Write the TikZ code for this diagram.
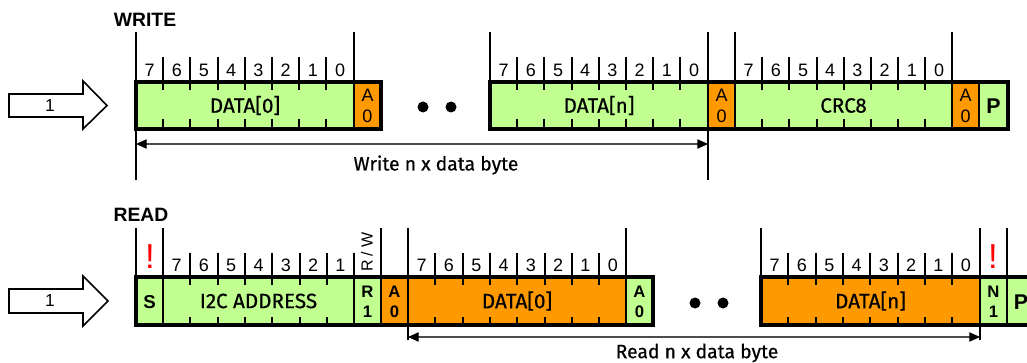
\documentclass[tikz,border=0pt]{standalone}
\usepackage{fontspec}
\setmainfont{Liberation Sans}
\newfontfamily\labelfont[FakeBold=0.6]{Fira Sans}
\usetikzlibrary{arrows.meta}
\definecolor{fieldgreen}{RGB}{192,255,144}
\definecolor{fieldorange}{RGB}{255,153,0}
\tikzset{
	bitnum/.style={font=\fontsize{13.5}{14}\selectfont, inner sep=0pt},
	bytename/.style={font=\labelfont\fontsize{15.5}{16}\selectfont, inner sep=0pt},
	ackbit/.style={font=\fontsize{13.5}{16}\selectfont, align=center, inner sep=0pt},
	ackbold/.style={font=\bfseries\fontsize{12.5}{15}\selectfont, align=center, inner sep=0pt},
	bigbold/.style={font=\bfseries\fontsize{14.5}{16}\selectfont, inner sep=0pt},
	frame/.style={black, line width=2.6pt},
	sep/.style={black, line width=1.5pt},
	dimline/.style={black!70, line width=0.8pt, {Triangle[length=8pt,width=7pt,color=black]}-{Triangle[length=8pt,width=7pt,color=black]}},
	warn/.style={red, font=\fontsize{26}{26}\selectfont, inner sep=0pt}
}

\begin{document}
\begin{tikzpicture}[x=0.75pt, y=-0.75pt]
\useasboundingbox (0,0) rectangle (1027,363);
\clip (0,0) rectangle (1027,363);

% ---------- WRITE ----------
\node[bigbold] (write) at (145,20) {WRITE};
\draw[black, line width=1.2pt, fill=white] (9,94)--(83,94)--(83,81)--(107,105.5)--(83,129)--(83,117)--(9,117)--cycle;
\node[font=\fontsize{13}{14}\selectfont] (win) at (50,105.5) {1};

\fill[fieldgreen] (136,82) rectangle (354,129);
\fill[fieldorange] (354,82) rectangle (381,129);
\fill[fieldgreen] (490,82) rectangle (708,129);
\fill[fieldorange] (708,82) rectangle (735,129);
\fill[fieldgreen] (735,82) rectangle (952,129);
\fill[fieldorange] (952,82) rectangle (979,129);
\fill[fieldgreen] (979,82) rectangle (1008,129);

\foreach \s in {136,490,735}{
	\foreach \b in {1,...,7}{
		\draw[sep](\s+27.2*\b,57)--(\s+27.2*\b,82);
		\draw[sep](\s+27.2*\b,82)--(\s+27.2*\b,90);
		\draw[sep](\s+27.2*\b,119)--(\s+27.2*\b,129);
	}
	\foreach \b in {0,...,7}{
		\pgfmathtruncatemacro\n{7-\b}
		\node[bitnum] (w\s-\n) at (\s+27.2*\b+13.6,70) {\n};
	}
}
\foreach \x in {354,490,735,952}{
	\draw[sep](\x,32)--(\x,129);
}
\draw[sep](979,82)--(979,129);
\draw[sep](136,32)--(136,180);
\draw[sep](708,32)--(708,180);
\draw[frame](136,82) rectangle (381,129);
\draw[frame](490,82) rectangle (1008,129);

\node[bytename] (wd0) at (245,105.5) {DATA[0]};
\node[bytename] (wdn) at (599,105.5) {DATA[n]};
\node[bytename] (crc) at (843.5,105.5) {CRC8};
\node[ackbit] (wa0) at (367.5,106) {A\\0};
\node[ackbit] (wa1) at (721.5,106) {A\\0};
\node[ackbit] (wa2) at (965.5,106) {A\\0};
\node[bigbold, font=\bfseries\fontsize{16}{16}\selectfont] (wp) at (993.5,106) {P};
\fill (423,107) circle (5.5);
\fill (451,107) circle (5.5);

\coordinate (wl) at (136,144);
\coordinate (wr) at (708,144);
\draw[dimline] (wl)--(wr);
\node[font=\labelfont\fontsize{14.5}{15}\selectfont] (wtxt) at (436,165) {Write n x data byte};

% ---------- READ ----------
\node[bigbold] (read) at (141,215) {READ};
\draw[black, line width=1.2pt, fill=white] (9,289)--(83,289)--(83,276)--(108,301)--(83,326)--(83,313)--(9,313)--cycle;
\node[font=\fontsize{13}{14}\selectfont] (rin) at (50,301) {1};

\fill[fieldgreen] (136,277) rectangle (381,325);
\fill[fieldorange] (381,277) rectangle (626,325);
\fill[fieldgreen] (626,277) rectangle (653,325);
\fill[fieldorange] (761,277) rectangle (980,325);
\fill[fieldgreen] (980,277) rectangle (1040,325);

\foreach \b in {1,...,7}{
	\draw[sep](163+27.3*\b,253)--(163+27.3*\b,277);
	\draw[sep](163+27.3*\b,277)--(163+27.3*\b,285);
	\draw[sep](163+27.3*\b,317)--(163+27.3*\b,325);
}
\draw[sep](354,277)--(354,325);
\foreach \b in {0,...,6}{
	\pgfmathtruncatemacro\n{7-\b}
	\node[bitnum] (ra-\n) at (163+27.3*\b+13.65,265) {\n};
}
\foreach \s in {408,761}{
	\foreach \b in {1,...,7}{
		\draw[sep](\s+27.3*\b,253)--(\s+27.3*\b,277);
		\draw[sep](\s+27.3*\b,277)--(\s+27.3*\b,285);
		\draw[sep](\s+27.3*\b,317)--(\s+27.3*\b,325);
	}
	\foreach \b in {0,...,7}{
		\pgfmathtruncatemacro\n{7-\b}
		\node[bitnum] (r\s-\n) at (\s+27.3*\b+13.65,265) {\n};
	}
}
\foreach \x in {136,163,381,626,761,1007}{
	\draw[sep](\x,228)--(\x,325);
}
\draw[sep](408,228)--(408,340);
\draw[sep](980,228)--(980,340);
\draw[frame](136,277) rectangle (653,325);
\draw[frame](761,277) rectangle (1045,325);

\node[bigbold, font=\bfseries\fontsize{14}{14}\selectfont] (rs) at (149.5,302) {S};
\node[bytename] (addr) at (258.5,301) {I2C ADDRESS};
\node[font=\fontsize{12}{12}\selectfont, rotate=90, inner sep=0pt] (rw) at (367,252) {R / W};
\node[ackbold] (r1) at (367.5,302) {R\\1};
\node[ackbold] (ra0) at (394.5,302) {A\\0};
\node[bytename] (rd0) at (517,301) {DATA[0]};
\node[ackbold] (ra1) at (639.5,302) {A\\0};
\node[bytename] (rdn) at (870.5,301) {DATA[n]};
\node[ackbold] (rn1) at (993.5,302) {N\\1};
\node[bigbold, font=\bfseries\fontsize{16}{16}\selectfont] (rp) at (1021,302) {P};
\node[warn] (w1) at (150,257) {!};
\node[warn] (w2) at (993,257) {!};
\fill (695,303) circle (5.5);
\fill (723,303) circle (5.5);

\coordinate (rl) at (408,337);
\coordinate (rr) at (980,337);
\draw[dimline] (rl)--(rr);
\node[font=\labelfont\fontsize{14.5}{15}\selectfont] (rtxt) at (697,353) {Read n x data byte};
\end{tikzpicture}
\end{document}
